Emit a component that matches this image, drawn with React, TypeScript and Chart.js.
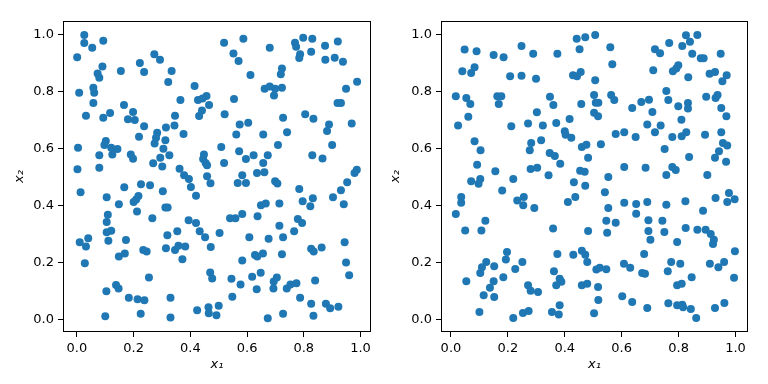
import React, { useEffect, useRef } from "react";
import { Chart, registerables } from "chart.js";

Chart.register(...registerables);

const TICK_VALUES = [0, 0.2, 0.4, 0.6, 0.8, 1.0];
const X_LABEL = "x₁";
const Y_LABEL = "x₂";
const POINT_COLOR = "#1f77b4";

const leftPoints: [number, number][] = [
  [0.026,0.998],[0.026,0.97],[0.054,0.953],[0.093,0.978],[0.001,0.92],[0.09,0.887],[0.073,0.863],[0.079,0.848],[0.058,0.813],[0.061,0.795],[0.008,0.795],[0.058,0.759],[0.032,0.715],[0.093,0.708],[0.117,0.724],[0.155,0.872],[0.222,0.9],[0.237,0.868],[0.273,0.93],[0.293,0.911],[0.334,0.872],[0.322,0.833],[0.166,0.752],[0.198,0.728],[0.18,0.702],[0.204,0.7],[0.365,0.77],[0.346,0.715],[0.415,0.819],[0.427,0.77],[0.443,0.775],[0.457,0.784],[0.466,0.752],[0.441,0.733],[0.431,0.714],
  [0.519,0.971],[0.587,0.985],[0.552,0.933],[0.57,0.907],[0.68,0.953],[0.769,0.971],[0.773,0.957],[0.798,0.988],[0.83,0.985],[0.875,0.96],[0.92,0.975],[0.826,0.939],[0.787,0.93],[0.784,0.917],[0.876,0.911],[0.909,0.918],[0.938,0.904],[0.612,0.858],[0.723,0.88],[0.719,0.86],[0.662,0.809],[0.68,0.817],[0.699,0.809],[0.723,0.813],[0.695,0.786],[0.554,0.773],[0.988,0.834],[0.949,0.809],[0.919,0.759],[0.931,0.759],[0.521,0.72],[0.727,0.708],[0.805,0.72],[0.834,0.704],[0.604,0.69],[0.574,0.684],[0.889,0.684],[0.882,0.661],[0.969,0.687],
  [0.237,0.678],[0.314,0.673],[0.344,0.68],[0.376,0.651],[0.219,0.641],[0.283,0.655],[0.279,0.637],[0.274,0.617],[0.312,0.629],[0.305,0.599],[0.326,0.576],[0.294,0.567],[0.269,0.548],[0.301,0.537],[0.102,0.626],[0.097,0.612],[0.121,0.602],[0.143,0.598],[0.125,0.579],[0.079,0.576],[0.004,0.602],[0.19,0.579],[0.198,0.564],[0.002,0.527],[0.079,0.532],[0.362,0.529],[0.378,0.506],[0.395,0.493],[0.402,0.465],[0.42,0.434],[0.448,0.579],[0.445,0.563],[0.454,0.549],[0.459,0.541],[0.459,0.502],[0.471,0.478],[0.509,0.605],[0.013,0.446],[0.167,0.464],[0.226,0.474],[0.258,0.471],[0.303,0.45],[0.105,0.429],[0.217,0.433],[0.209,0.421],[0.2,0.412],[0.148,0.404],[0.312,0.393],[0.32,0.393],[0.212,0.379],[0.109,0.367],[0.105,0.342],[0.266,0.355],[0.394,0.348],[0.42,0.338],
  [0.562,0.649],[0.657,0.649],[0.741,0.657],[0.572,0.59],[0.596,0.563],[0.623,0.576],[0.673,0.576],[0.709,0.612],[0.657,0.549],[0.519,0.549],[0.635,0.514],[0.661,0.516],[0.583,0.506],[0.567,0.479],[0.596,0.479],[0.699,0.485],[0.707,0.477],[0.9,0.612],[0.83,0.576],[0.866,0.565],[0.987,0.525],[0.979,0.514],[0.953,0.481],[0.931,0.453],[0.903,0.429],[0.941,0.404],[0.784,0.458],[0.796,0.415],[0.832,0.425],[0.823,0.397],[0.649,0.401],[0.666,0.407],[0.714,0.407],[0.54,0.355],[0.559,0.355],[0.583,0.37],[0.637,0.362],[0.779,0.352],[0.794,0.338],[0.714,0.329],
  [0.01,0.271],[0.04,0.285],[0.032,0.256],[0.028,0.197],[0.105,0.306],[0.121,0.311],[0.111,0.276],[0.173,0.279],[0.148,0.221],[0.169,0.231],[0.234,0.244],[0.246,0.238],[0.319,0.295],[0.354,0.309],[0.314,0.25],[0.346,0.244],[0.358,0.259],[0.382,0.256],[0.372,0.211],[0.433,0.309],[0.452,0.288],[0.472,0.254],[0.47,0.165],[0.477,0.144],[0.254,0.147],[0.138,0.121],[0.147,0.109],[0.104,0.099],[0.183,0.076],[0.214,0.071],[0.238,0.067],[0.33,0.076],[0.225,0.02],[0.1,0.011],[0.33,0.007],[0.424,0.032],[0.464,0.043],[0.465,0.022],[0.492,0.015],[0.5,0.048],
  [0.503,0.303],[0.766,0.309],[0.608,0.288],[0.676,0.283],[0.727,0.288],[0.628,0.226],[0.636,0.221],[0.656,0.231],[0.723,0.229],[0.583,0.207],[0.826,0.248],[0.835,0.238],[0.863,0.252],[0.944,0.271],[0.949,0.2],[0.96,0.155],[0.545,0.143],[0.577,0.123],[0.618,0.15],[0.648,0.164],[0.634,0.106],[0.694,0.133],[0.705,0.147],[0.693,0.109],[0.74,0.109],[0.753,0.123],[0.774,0.127],[0.84,0.137],[0.787,0.076],[0.548,0.08],[0.826,0.055],[0.834,0.013],[0.878,0.055],[0.893,0.039],[0.922,0.045],[0.673,0.004],[0.727,0.02],
];

const rightPoints: [number, number][] = [
  [0.048,0.947],[0.09,0.941],[0.15,0.928],[0.185,0.92],[0.248,0.959],[0.289,0.932],[0.374,0.932],[0.442,0.985],[0.472,0.99],[0.452,0.948],[0.04,0.871],[0.071,0.865],[0.083,0.885],[0.208,0.853],[0.248,0.855],[0.299,0.844],[0.429,0.857],[0.443,0.853],[0.456,0.868],[0.017,0.783],[0.054,0.777],[0.068,0.756],[0.163,0.783],[0.177,0.783],[0.168,0.756],[0.348,0.781],[0.36,0.752],[0.458,0.756],[0.302,0.727],[0.061,0.711],[0.417,0.703],
  [0.507,0.998],[0.56,0.955],[0.567,0.895],[0.507,0.839],[0.503,0.787],[0.509,0.76],[0.518,0.76],[0.563,0.787],[0.574,0.77],[0.503,0.725],[0.517,0.713],[0.637,0.742],[0.669,0.763],[0.696,0.771],[0.708,0.728],[0.717,0.948],[0.735,0.934],[0.767,0.97],[0.813,0.959],[0.826,0.997],[0.84,0.974],[0.866,0.998],[0.848,0.932],[0.878,0.916],[0.888,0.916],[0.948,0.932],[0.711,0.874],[0.78,0.871],[0.792,0.88],[0.799,0.892],[0.834,0.85],[0.909,0.862],[0.928,0.868],[0.969,0.857],[0.954,0.836],[0.757,0.801],[0.764,0.77],[0.799,0.748],[0.833,0.759],[0.833,0.74],[0.897,0.781],[0.93,0.777],[0.937,0.787],[0.95,0.742],[0.968,0.713],[0.81,0.701],
  [0.025,0.68],[0.212,0.678],[0.271,0.687],[0.323,0.68],[0.37,0.689],[0.4,0.66],[0.403,0.648],[0.423,0.637],[0.083,0.625],[0.104,0.594],[0.282,0.619],[0.277,0.594],[0.317,0.629],[0.347,0.584],[0.365,0.573],[0.384,0.546],[0.092,0.543],[0.28,0.528],[0.303,0.532],[0.343,0.506],[0.156,0.52],[0.103,0.493],[0.071,0.485],[0.097,0.476],[0.219,0.493],[0.18,0.452],[0.46,0.605],[0.476,0.613],[0.482,0.567],[0.454,0.522],[0.47,0.518],[0.432,0.481],[0.472,0.469],[0.437,0.43],[0.411,0.412],[0.036,0.43],[0.036,0.409],[0.017,0.37],[0.233,0.417],[0.256,0.43],[0.254,0.401],[0.293,0.391],[0.121,0.346],
  [0.69,0.684],[0.737,0.68],[0.579,0.651],[0.609,0.657],[0.649,0.64],[0.717,0.657],[0.778,0.64],[0.811,0.643],[0.827,0.657],[0.893,0.648],[0.95,0.657],[0.527,0.615],[0.956,0.619],[0.971,0.61],[0.942,0.59],[0.928,0.567],[0.967,0.553],[0.751,0.598],[0.837,0.57],[0.609,0.535],[0.684,0.532],[0.778,0.535],[0.79,0.524],[0.757,0.507],[0.901,0.507],[0.553,0.5],[0.541,0.446],[0.93,0.426],[0.977,0.444],[0.971,0.412],[0.997,0.422],[0.609,0.409],[0.651,0.405],[0.69,0.412],[0.757,0.402],[0.824,0.415],[0.553,0.391],[0.651,0.371],[0.886,0.381],[0.546,0.346],[0.579,0.339],[0.694,0.348],[0.743,0.346],
  [0.05,0.312],[0.107,0.312],[0.359,0.319],[0.482,0.31],[0.197,0.237],[0.193,0.21],[0.124,0.202],[0.109,0.183],[0.103,0.163],[0.152,0.187],[0.251,0.202],[0.226,0.177],[0.184,0.148],[0.054,0.134],[0.15,0.134],[0.137,0.111],[0.115,0.085],[0.152,0.079],[0.271,0.12],[0.28,0.101],[0.306,0.096],[0.1,0.026],[0.219,0.005],[0.253,0.023],[0.273,0.03],[0.355,0.026],[0.379,0.017],[0.382,0.05],[0.374,0.23],[0.43,0.227],[0.46,0.241],[0.472,0.227],[0.479,0.202],[0.362,0.169],[0.382,0.143],[0.388,0.132],[0.37,0.12],[0.46,0.12],[0.479,0.125],
  [0.549,0.304],[0.694,0.31],[0.701,0.28],[0.75,0.307],[0.825,0.321],[0.866,0.315],[0.895,0.315],[0.913,0.3],[0.924,0.28],[0.921,0.265],[0.795,0.272],[0.998,0.239],[0.679,0.23],[0.608,0.195],[0.63,0.181],[0.511,0.175],[0.523,0.181],[0.546,0.176],[0.672,0.163],[0.682,0.16],[0.774,0.202],[0.806,0.195],[0.762,0.169],[0.91,0.195],[0.94,0.183],[0.96,0.202],[0.846,0.148],[0.795,0.12],[0.811,0.125],[0.995,0.146],[0.517,0.114],[0.602,0.081],[0.637,0.061],[0.518,0.068],[0.503,0.022],[0.69,0.04],[0.764,0.057],[0.795,0.05],[0.813,0.052],[0.816,0.043],[0.843,0.037],[0.862,0.005],[0.928,0.04],[0.961,0.058],
];

const FONT = "'DejaVu Sans', sans-serif";

const framePlugin = {
  id: "frame",
  afterDatasetsDraw(chart: any) {
    const { ctx, chartArea: a } = chart;
    ctx.save();
    ctx.strokeStyle = "#000";
    ctx.lineWidth = 1;
    ctx.strokeRect(Math.round(a.left) + 0.5, Math.round(a.top) + 0.5, Math.round(a.right - a.left) - 1, Math.round(a.bottom - a.top) - 1);
    ctx.restore();
  },
};

type PanelCfg = {
  points: [number, number][];
  xMin: number; xMax: number; yMin: number; yMax: number;
  yAxisWidth: number; padRight: number; yTitlePad: number;
};

function makeConfig(cfg: PanelCfg): any {
  const setTicks = (axis: any) => {
    axis.ticks = TICK_VALUES.map((v) => ({ value: v }));
  };
  const tickFont = { family: FONT, size: 13 };
  const grid = { display: true, drawOnChartArea: false, drawTicks: true, tickLength: 5, color: "#000", lineWidth: 1 };
  return {
    type: "scatter",
    data: {
      datasets: [
        {
          data: cfg.points.map(([x, y]) => ({ x, y })),
          backgroundColor: POINT_COLOR,
          borderWidth: 0,
          pointRadius: 4,
          pointHoverRadius: 4,
        },
      ],
    },
    options: {
      responsive: false,
      animation: false,
      devicePixelRatio: 1,
      layout: { padding: { top: 21, right: cfg.padRight, bottom: 0, left: 0 } },
      plugins: { legend: { display: false }, tooltip: { enabled: false } },
      scales: {
        x: {
          type: "linear",
          min: cfg.xMin,
          max: cfg.xMax,
          afterBuildTicks: setTicks,
          afterFit: (s: any) => { s.height = 52; },
          grid,
          border: { display: false },
          ticks: { color: "#000", font: tickFont, padding: 4, maxRotation: 0, autoSkip: false, callback: (v: any) => Number(v).toFixed(1) },
          title: { display: true, text: X_LABEL, color: "#000", font: { family: FONT, size: 13, style: "italic" }, padding: { top: 0, bottom: 12 } },
        },
        y: {
          type: "linear",
          min: cfg.yMin,
          max: cfg.yMax,
          afterBuildTicks: setTicks,
          afterFit: (s: any) => { s.width = cfg.yAxisWidth; },
          grid,
          border: { display: false },
          ticks: { color: "#000", font: tickFont, padding: 4, autoSkip: false, callback: (v: any) => Number(v).toFixed(1) },
          title: { display: true, text: Y_LABEL, color: "#000", font: { family: FONT, size: 13, style: "italic" }, padding: { top: cfg.yTitlePad, bottom: 0 } },
        },
      },
    },
    plugins: [framePlugin],
  };
}

function Panel({ cfg, left }: { cfg: PanelCfg; left: number }) {
  const ref = useRef<HTMLCanvasElement | null>(null);
  useEffect(() => {
    if (!ref.current) return;
    const chart = new Chart(ref.current, makeConfig(cfg));
    return () => chart.destroy();
  }, []);
  return (
    <canvas
      ref={ref}
      width={384}
      height={384}
      style={{ position: "absolute", left, top: 0, width: 384, height: 384, display: "block" }}
    />
  );
}

const leftCfg: PanelCfg = {
  points: leftPoints,
  xMin: -0.049, xMax: 1.037, yMin: -0.044, yMax: 1.047,
  yAxisWidth: 63, padRight: 13, yTitlePad: 12,
};
const rightCfg: PanelCfg = {
  points: rightPoints,
  xMin: -0.035, xMax: 1.044, yMin: -0.044, yMax: 1.047,
  yAxisWidth: 57, padRight: 20, yTitlePad: 4,
};

export default function App() {
  return (
    <div style={{ position: "absolute", left: 0, top: 0, width: 768, height: 384, background: "#fff", overflow: "hidden" }}>
      <Panel cfg={leftCfg} left={0} />
      <Panel cfg={rightCfg} left={384} />
    </div>
  );
}
